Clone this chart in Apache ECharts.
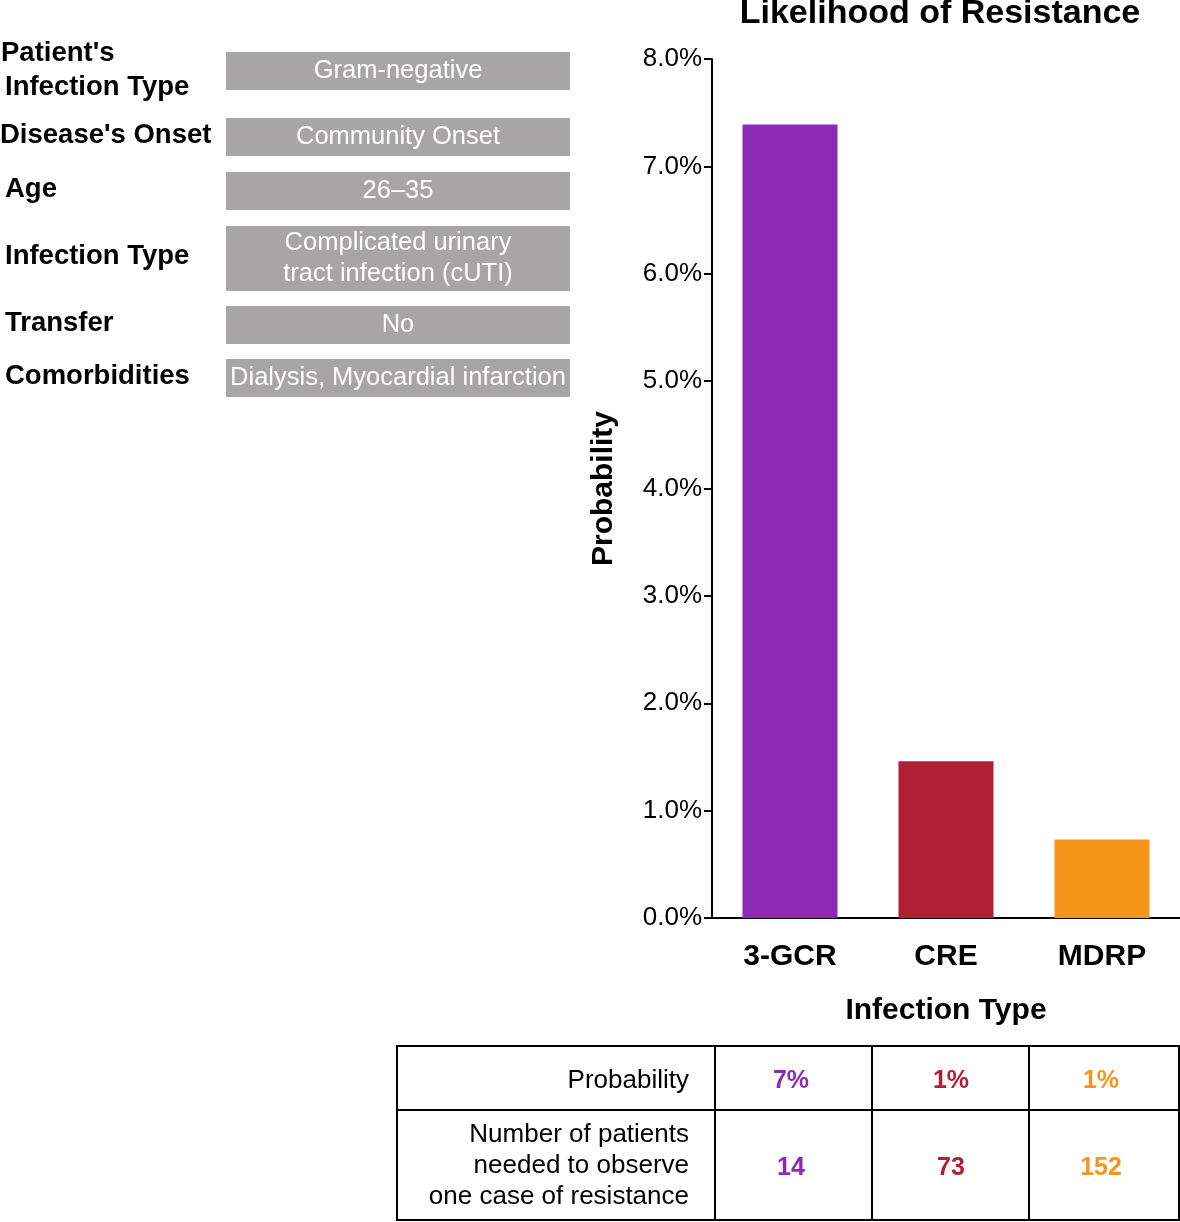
<!DOCTYPE html>
<html>
<head>
<meta charset="utf-8">
<script src="https://cdn.jsdelivr.net/npm/echarts@6/dist/echarts.min.js"></script>
<style>
html,body{margin:0;padding:0;background:#fff;}
#chart{width:1180px;height:1222px;}
</style>
</head>
<body>
<div id="chart"></div>
<script>
const categories = ['3-GCR', 'CRE', 'MDRP'];
const probabilities = [7.39, 1.46, 0.73];
const barColors = ['#8C2AB6', '#B21F34', '#F5961B'];
const yTicks = [0, 1, 2, 3, 4, 5, 6, 7, 8];
const profileLabels = [["Patient's", 'Infection Type'], ["Disease's Onset"], ['Age'], ['Infection Type'], ['Transfer'], ['Comorbidities']];
const profileValues = [['Gram-negative'], ['Community Onset'], ['26–35'], ['Complicated urinary', 'tract infection (cUTI)'], ['No'], ['Dialysis, Myocardial infarction']];
const tableRowLabels = [['Probability'], ['Number of patients', 'needed to observe', 'one case of resistance']];
const tableProb = ['7%', '1%', '1%'];
const tableNeeded = ['14', '73', '152'];

const FONT = '"Liberation Sans", Arial, Helvetica, sans-serif';
const chart = echarts.init(document.getElementById('chart'));

const graphics = [];
// title
graphics.push({type:'text', x: 940, y: 14, style:{text:'Likelihood of Resistance', font:'bold 34px ' + FONT, fill:'#000', align:'center', verticalAlign:'middle'}});

// left panel
const boxRows = [[52,90],[118,156],[172,210],[226,291],[306,344],[359,397]];
const labelX = [5, 0, 5, 5, 5, 5];
boxRows.forEach((r, i) => {
  graphics.push({type:'rect', shape:{x:226, y:r[0], width:344, height:r[1]-r[0]}, style:{fill:'#A7A5A6'}});
  graphics.push({type:'text', x:398, y:(r[0]+r[1])/2, style:{text:profileValues[i].join('\n'), font:'25.5px ' + FONT, fill:'#fff', align:'center', verticalAlign:'middle', lineHeight:31}});
  const lbl = profileLabels[i];
  if (lbl.length === 2) {
    graphics.push({type:'text', x:1, y:53, style:{text:lbl[0], font:'bold 27.5px ' + FONT, fill:'#000', align:'left', verticalAlign:'middle'}});
    graphics.push({type:'text', x:labelX[i], y:87, style:{text:lbl[1], font:'bold 27.5px ' + FONT, fill:'#000', align:'left', verticalAlign:'middle'}});
  } else {
    graphics.push({type:'text', x:labelX[i], y:(r[0]+r[1])/2 - 2, style:{text:lbl[0], font:'bold 27.5px ' + FONT, fill:'#000', align:'left', verticalAlign:'middle'}});
  }
});
// table
graphics.push({type:'rect', shape:{x:397, y:1046, width:782, height:174}, style:{fill:'none', stroke:'#000', lineWidth:2}});
graphics.push({type:'line', shape:{x1:397, y1:1110, x2:1179, y2:1110}, style:{stroke:'#000', lineWidth:2}});
[715, 872, 1029].forEach(x => graphics.push({type:'line', shape:{x1:x, y1:1046, x2:x, y2:1220}, style:{stroke:'#000', lineWidth:2}}));
graphics.push({type:'text', x:689, y:1081, style:{text:tableRowLabels[0].join('\n'), font:'26px ' + FONT, fill:'#000', align:'right', verticalAlign:'middle'}});
graphics.push({type:'text', x:689, y:1166, style:{text:tableRowLabels[1].join('\n'), font:'26px ' + FONT, fill:'#000', align:'right', verticalAlign:'middle', lineHeight:31}});
const colCenters = [791, 951, 1101];
categories.forEach((c, i) => {
  graphics.push({type:'text', x:colCenters[i], y:1081, style:{text:tableProb[i], font:'bold 25px ' + FONT, fill:barColors[i], align:'center', verticalAlign:'middle'}});
  graphics.push({type:'text', x:colCenters[i], y:1168, style:{text:tableNeeded[i], font:'bold 25px ' + FONT, fill:barColors[i], align:'center', verticalAlign:'middle'}});
});

chart.setOption({
  animation: false,
  backgroundColor: '#fff',
  grid: {left: 712, right: 0, top: 59, bottom: 304, containLabel: false},
  xAxis: {
    type: 'category', data: categories,
    name: 'Infection Type', nameLocation: 'middle', nameGap: 78,
    nameTextStyle: {fontFamily: FONT, fontWeight: 'bold', fontSize: 30, color: '#000'},
    axisLine: {lineStyle: {color: '#000', width: 2}},
    axisTick: {show: false},
    axisLabel: {fontFamily: FONT, fontWeight: 'bold', fontSize: 30, color: '#000', margin: 24}
  },
  yAxis: {
    type: 'value', min: 0, max: 8, interval: 1,
    name: 'Probability', nameLocation: 'middle', nameGap: 93,
    nameTextStyle: {fontFamily: FONT, fontWeight: 'bold', fontSize: 30, color: '#000'},
    axisLine: {show: true, lineStyle: {color: '#000', width: 2}},
    axisTick: {show: true, length: 8, lineStyle: {color: '#000', width: 2}},
    splitLine: {show: false},
    axisLabel: {fontFamily: FONT, fontSize: 26, color: '#000', margin: 10, formatter: v => yTicks.includes(v) ? v.toFixed(1) + '%' : ''}
  },
  series: [{
    type: 'bar', barWidth: 95,
    data: probabilities.map((v, i) => ({value: v, itemStyle: {color: barColors[i]}}))
  }],
  graphic: graphics
});
</script>
</body>
</html>
